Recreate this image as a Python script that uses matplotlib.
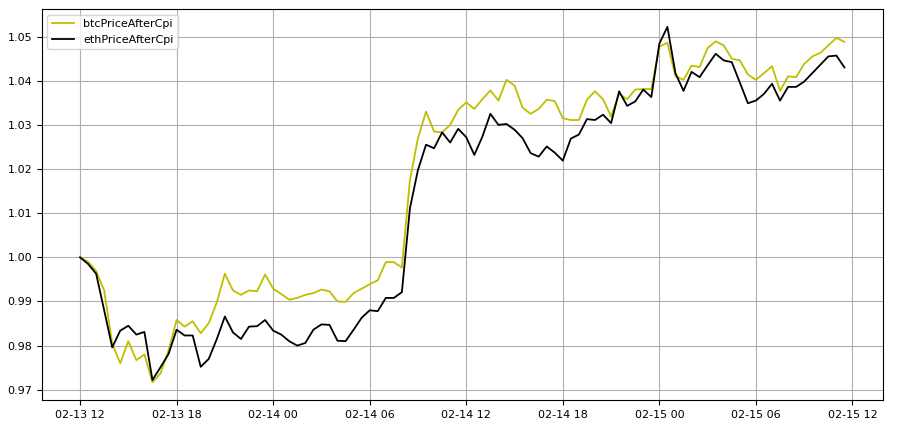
import numpy as np
import pandas as pd
import matplotlib
matplotlib.use("Agg")
from matplotlib import pyplot as plt
import matplotlib.dates as mdates

# half-hourly samples from 2023-02-13 12:00
times = pd.date_range("2023-02-13 12:00", periods=96, freq="30min")

btc_price_after_cpi = [
    1.0000, 0.9990, 0.9969, 0.9925, 0.9804, 0.9760, 0.9810, 0.9767, 0.9780, 0.9717,
    0.9737, 0.9789, 0.9858, 0.9843, 0.9855, 0.9828, 0.9851, 0.9898, 0.9963, 0.9925,
    0.9915, 0.9925, 0.9923, 0.9961, 0.9929, 0.9917, 0.9904, 0.9908, 0.9915, 0.9919,
    0.9927, 0.9923, 0.9900, 0.9899, 0.9919, 0.9929, 0.9939, 0.9948, 0.9989, 0.9989,
    0.9977, 1.0175, 1.0270, 1.0330, 1.0285, 1.0283, 1.0300, 1.0334, 1.0351, 1.0336,
    1.0358, 1.0378, 1.0355, 1.0402, 1.0389, 1.0339, 1.0325, 1.0336, 1.0357, 1.0354,
    1.0315, 1.0311, 1.0311, 1.0357, 1.0376, 1.0358, 1.0319, 1.0370, 1.0358, 1.0380,
    1.0381, 1.0381, 1.0477, 1.0486, 1.0410, 1.0402, 1.0434, 1.0431, 1.0474, 1.0489,
    1.0480, 1.0450, 1.0446, 1.0414, 1.0402, 1.0417, 1.0433, 1.0377, 1.0410, 1.0408,
    1.0438, 1.0455, 1.0463, 1.0480, 1.0497, 1.0488,
]

eth_price_after_cpi = [
    1.0000, 0.9985, 0.9963, 0.9880, 0.9796, 0.9834, 0.9845, 0.9825, 0.9831, 0.9722,
    0.9751, 0.9781, 0.9836, 0.9823, 0.9823, 0.9752, 0.9770, 0.9815, 0.9866, 0.9830,
    0.9815, 0.9843, 0.9844, 0.9858, 0.9834, 0.9825, 0.9810, 0.9800, 0.9806, 0.9836,
    0.9848, 0.9847, 0.9811, 0.9810, 0.9836, 0.9863, 0.9880, 0.9878, 0.9908, 0.9908,
    0.9921, 1.0111, 1.0198, 1.0255, 1.0247, 1.0283, 1.0260, 1.0291, 1.0272, 1.0232,
    1.0273, 1.0325, 1.0300, 1.0302, 1.0289, 1.0270, 1.0236, 1.0228, 1.0251, 1.0237,
    1.0219, 1.0269, 1.0278, 1.0313, 1.0311, 1.0323, 1.0304, 1.0376, 1.0343, 1.0353,
    1.0380, 1.0363, 1.0484, 1.0522, 1.0417, 1.0377, 1.0420, 1.0408, 1.0435, 1.0461,
    1.0446, 1.0442, 1.0396, 1.0349, 1.0355, 1.0370, 1.0393, 1.0355, 1.0386, 1.0386,
    1.0398, 1.0417, 1.0436, 1.0455, 1.0457, 1.0430,
]

fig, ax = plt.subplots(figsize=(9.09, 4.32), dpi=100)
fig.subplots_adjust(left=0.046, right=0.971, top=0.979, bottom=0.074)

ax.plot(times, btc_price_after_cpi, color="y", linewidth=1.3, label="btcPriceAfterCpi")
ax.plot(times, eth_price_after_cpi, color="k", linewidth=1.3, label="ethPriceAfterCpi")

ax.xaxis.set_major_locator(mdates.HourLocator(byhour=[0, 6, 12, 18]))
ax.xaxis.set_major_formatter(mdates.DateFormatter("%m-%d %H"))
ax.tick_params(labelsize=8)
ax.grid(True)
ax.legend(loc="upper left", fontsize=8)

plt.savefig("out.png")
